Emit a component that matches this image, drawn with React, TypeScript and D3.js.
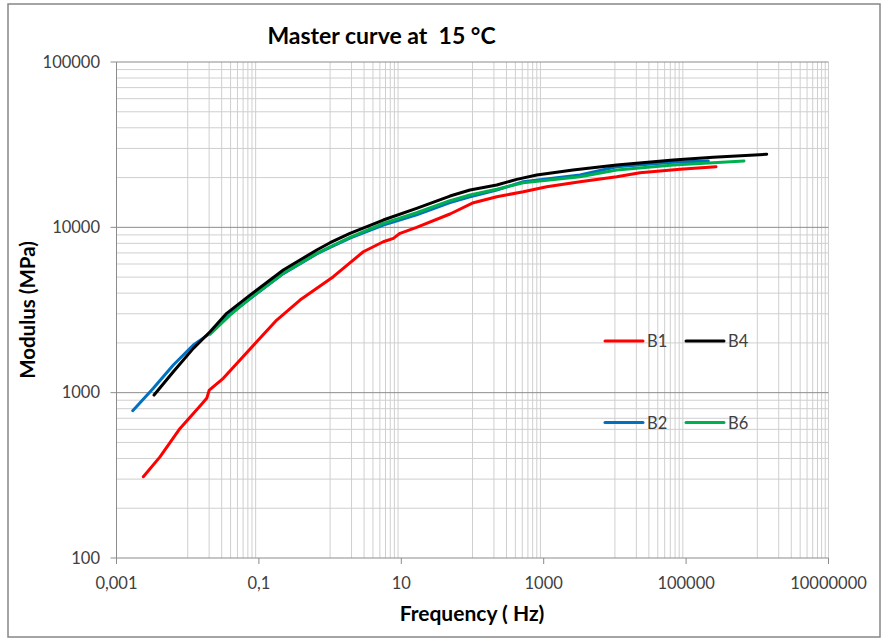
import React from "react";
import * as d3 from "d3";

const b1Freq = [0.00238, 0.00408, 0.0078, 0.0149, 0.0185, 0.0201, 0.0316, 0.0543, 0.0931, 0.178, 0.378, 1.11, 2.93, 5.58, 7.73, 9.6, 16.4, 48.3, 103, 219, 517, 1100, 3240, 10600, 22500, 82000, 263000];
const b1Mod = [310, 409, 608, 830, 924, 1037, 1221, 1575, 2032, 2750, 3630, 5030, 7120, 8180, 8580, 9200, 10000, 12040, 14090, 15310, 16420, 17600, 18880, 20230, 21400, 22430, 23270];

const b4Freq = [0.00337, 0.00628, 0.012, 0.0206, 0.0353, 0.075, 0.22, 0.649, 1.0, 1.9, 5.58, 16.4, 48.3, 92.2, 219, 418, 798, 2580, 10600, 66100, 241000, 1356000];
const b4Mod = [967, 1337, 1853, 2335, 3018, 3890, 5520, 7290, 8070, 9200, 11070, 13030, 15460, 16810, 18030, 19510, 20720, 22220, 23820, 25540, 26510, 27660];

const b2Freq = [0.00169, 0.00329, 0.00628, 0.012, 0.0206, 0.0393, 0.075, 0.22, 0.649, 1.0, 1.9, 5.58, 16.4, 48.3, 92.2, 219, 517, 3240, 10600, 66100, 205000];
const b2Mod = [778, 1062, 1469, 1941, 2284, 2990, 3700, 5250, 6900, 7560, 8600, 10320, 11900, 14100, 15310, 16810, 18880, 20720, 23270, 24740, 25180];

const b6Freq = [0.0206, 0.0393, 0.075, 0.22, 0.649, 1.0, 1.9, 5.58, 16.4, 48.3, 92.2, 219, 517, 3240, 10600, 66100, 650000];
const b6Mod = [2261, 2946, 3720, 5270, 6960, 7630, 8700, 10570, 12250, 14490, 15680, 16980, 18610, 20230, 22220, 23820, 25180];

const xTicks = [0.001, 0.1, 10, 1000, 100000, 10000000];
const xTickLabels = ["0,001", "0,1", "10", "1000", "100000", "10000000"];
const yTicks = [100, 1000, 10000, 100000];
const yTickLabels = ["100", "1000", "10000", "100000"];

const series = [
  { name: "B1", freq: b1Freq, mod: b1Mod, color: "#ff0000" },
  { name: "B2", freq: b2Freq, mod: b2Mod, color: "#0070c0" },
  { name: "B6", freq: b6Freq, mod: b6Mod, color: "#00b050" },
  { name: "B4", freq: b4Freq, mod: b4Mod, color: "#000000" },
];

// posicion de la leyenda (columna, fila)
const legendPos: Record<string, [number, number]> = { B1: [0, 0], B4: [1, 0], B2: [0, 1], B6: [1, 1] };

const W = 883;
const H = 641;
const left = 116.5, right = 828.5, top = 62, bottom = 558;
const font = "Lato, 'Open Sans', sans-serif";

export default function App() {
  const x = d3.scaleLog().domain([1e-3, 1e7]).range([left, right]);
  const y = d3.scaleLog().domain([100, 1e5]).range([bottom, top]);

  // lineas menores verticales: solo en las decadas impares (como Excel)
  const vGrid: number[] = [];
  for (let i = 0; i < xTicks.length - 1; i++) {
    for (let m = 1; m <= 9; m++) vGrid.push(xTicks[i] * 10 * m);
  }
  vGrid.push(xTicks[xTicks.length - 1]);

  const hMinor: number[] = [];
  for (let i = 0; i < yTicks.length - 1; i++) {
    for (let m = 2; m <= 9; m++) hMinor.push(yTicks[i] * m);
  }

  const line = d3
    .line<[number, number]>()
    .x((d) => x(d[0]))
    .y((d) => y(d[1]));

  return (
    <svg width={W} height={H} style={{ position: "absolute", left: 0, top: 0, background: "#fff" }}>
      <rect x={8} y={4} width={872} height={633} fill="#fff" stroke="#878787" strokeWidth={1.5} />

      <text
        x={381.5}
        y={44}
        textAnchor="middle"
        fontFamily={font}
        fontWeight="bold"
        fontSize={23}
        fill="#000"
        style={{ whiteSpace: "pre" }}
      >
        {"Master curve at  15 °C"}
      </text>

      {vGrid.map((v, i) => (
        <line key={"v" + i} x1={x(v)} x2={x(v)} y1={top} y2={bottom} stroke="#cfcfcf" strokeWidth={1} />
      ))}
      {hMinor.map((v, i) => (
        <line key={"h" + i} x1={left} x2={right} y1={y(v)} y2={y(v)} stroke="#cfcfcf" strokeWidth={1} />
      ))}
      {yTicks.map((v, i) => (
        <g key={"y" + i}>
          <line x1={left - 6} x2={right} y1={y(v)} y2={y(v)} stroke="#8c8c8c" strokeWidth={1} />
          <text x={100} y={y(v)} dy="0.35em" textAnchor="end" fontFamily={font} fontSize={16.5} fill="#404040">
            {yTickLabels[i]}
          </text>
        </g>
      ))}
      <line x1={left} x2={left} y1={top} y2={bottom} stroke="#8c8c8c" strokeWidth={1} />
      {xTicks.map((v, i) => (
        <g key={"x" + i}>
          <line x1={x(v)} x2={x(v)} y1={bottom} y2={bottom + 6} stroke="#8c8c8c" strokeWidth={1} />
          <text x={x(v)} y={589} textAnchor="middle" fontFamily={font} fontSize={16.5} fill="#404040">
            {xTickLabels[i]}
          </text>
        </g>
      ))}

      {series.map((s) => (
        <path
          key={s.name}
          d={line(s.freq.map((f, i) => [f, s.mod[i]]) as [number, number][]) || ""}
          fill="none"
          stroke={s.color}
          strokeWidth={3}
          strokeLinejoin="round"
          strokeLinecap="round"
        />
      ))}

      {series.map((s) => {
        const [c, r] = legendPos[s.name];
        const lx = 605 + c * 81;
        const ly = 341 + r * 81.5;
        return (
          <g key={"lg" + s.name}>
            <line x1={lx} x2={lx + 38} y1={ly} y2={ly} stroke={s.color} strokeWidth={3} strokeLinecap="round" />
            <text x={lx + 42} y={ly + 6} fontFamily={font} fontSize={16.5} fill="#404040">
              {s.name}
            </text>
          </g>
        );
      })}

      <text x={472} y={621} textAnchor="middle" fontFamily={font} fontWeight="bold" fontSize={21} fill="#000">
        Frequency ( Hz)
      </text>
      <text
        transform="translate(35,310) rotate(-90)"
        textAnchor="middle"
        fontFamily={font}
        fontWeight="bold"
        fontSize={20.5}
        fill="#000"
      >
        Modulus (MPa)
      </text>
    </svg>
  );
}
